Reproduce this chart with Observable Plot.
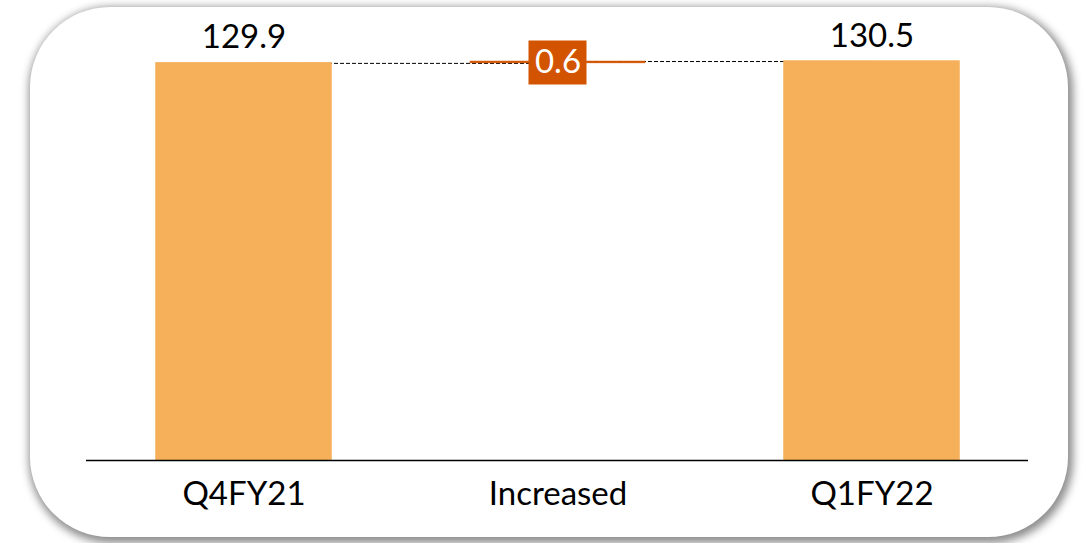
<!DOCTYPE html>
<html>
<head>
<meta charset="utf-8">
<script src="https://cdn.jsdelivr.net/npm/d3@7"></script>
<script src="https://cdn.jsdelivr.net/npm/@observablehq/plot@0.6"></script>
<style>
  html, body { margin: 0; padding: 0; background: #fff; }
  #wrap { position: relative; width: 1089px; height: 543px; overflow: hidden; }
  #card { position: absolute; left: 30px; top: 7px; width: 1038px; height: 530px;
          border-radius: 80px; background: #fff;
          box-shadow: 2px 3px 8px 3px rgba(0,0,0,0.45); }
  #chart { position: absolute; left: 0; top: 0; }
</style>
</head>
<body>
<div id="wrap"><div id="card"></div><div id="chart"></div></div>
<script>
const categories = ["Q4FY21", "Increased", "Q1FY22"];
const starts = [0, 129.9, 0];
const ends = [129.9, 130.5, 130.5];
const labels = ["129.9", "0.6", "130.5"];
const kinds = ["total", "delta", "total"];

const rows = categories.map((c, i) => ({cat: c, y1: starts[i], y2: ends[i], label: labels[i], kind: kinds[i]}));
const totals = rows.filter(d => d.kind === "total");
const deltas = rows.filter(d => d.kind === "delta");
const links = rows.slice(0, -1).map((d, i) => ({a: d.cat, b: rows[i + 1].cat, y: d.y2}));

const font = "Lato, 'Open Sans', sans-serif";
const light = "#F6B05A";
const dark = "#D35400";

const chart = Plot.plot({
  width: 1089,
  height: 543,
  marginLeft: 86,
  marginRight: 61,
  marginTop: 32,
  marginBottom: 83,
  style: {background: "transparent", fontFamily: font},
  x: {domain: categories, paddingInner: 0.443, paddingOuter: 0.221, label: null},
  y: {domain: [0, 140], axis: null},
  marks: [
    Plot.link(links, {x1: "a", x2: "b", y1: "y", y2: "y", stroke: "#000", strokeWidth: 1, strokeDasharray: "4,2"}),
    Plot.barY(totals, {x: "cat", y1: "y1", y2: "y2", fill: light, stroke: light, strokeWidth: 1.5}),
    Plot.barY(deltas, {x: "cat", y1: "y1", y2: "y2", fill: dark, stroke: dark, strokeWidth: 0.5}),
    Plot.ruleY([0], {stroke: "#000", strokeWidth: 1.5}),
    Plot.text(totals, {x: "cat", y: "y2", text: "label", dy: -15, lineAnchor: "bottom", fontSize: 33, fill: "#000"}),
    Plot.tickY(deltas, {x: "cat", y: d => (d.y1 + d.y2) / 2, stroke: dark, strokeWidth: 44, insetLeft: 58.5, insetRight: 58.5}),
    Plot.text(deltas, {x: "cat", y: d => (d.y1 + d.y2) / 2, text: "label", fontSize: 33, fill: "#fff"}),
    Plot.axisX({tickSize: 0, tickPadding: 21, fontSize: 33, color: "#000", label: null})
  ]
});
document.getElementById("chart").appendChild(chart);
</script>
</body>
</html>
